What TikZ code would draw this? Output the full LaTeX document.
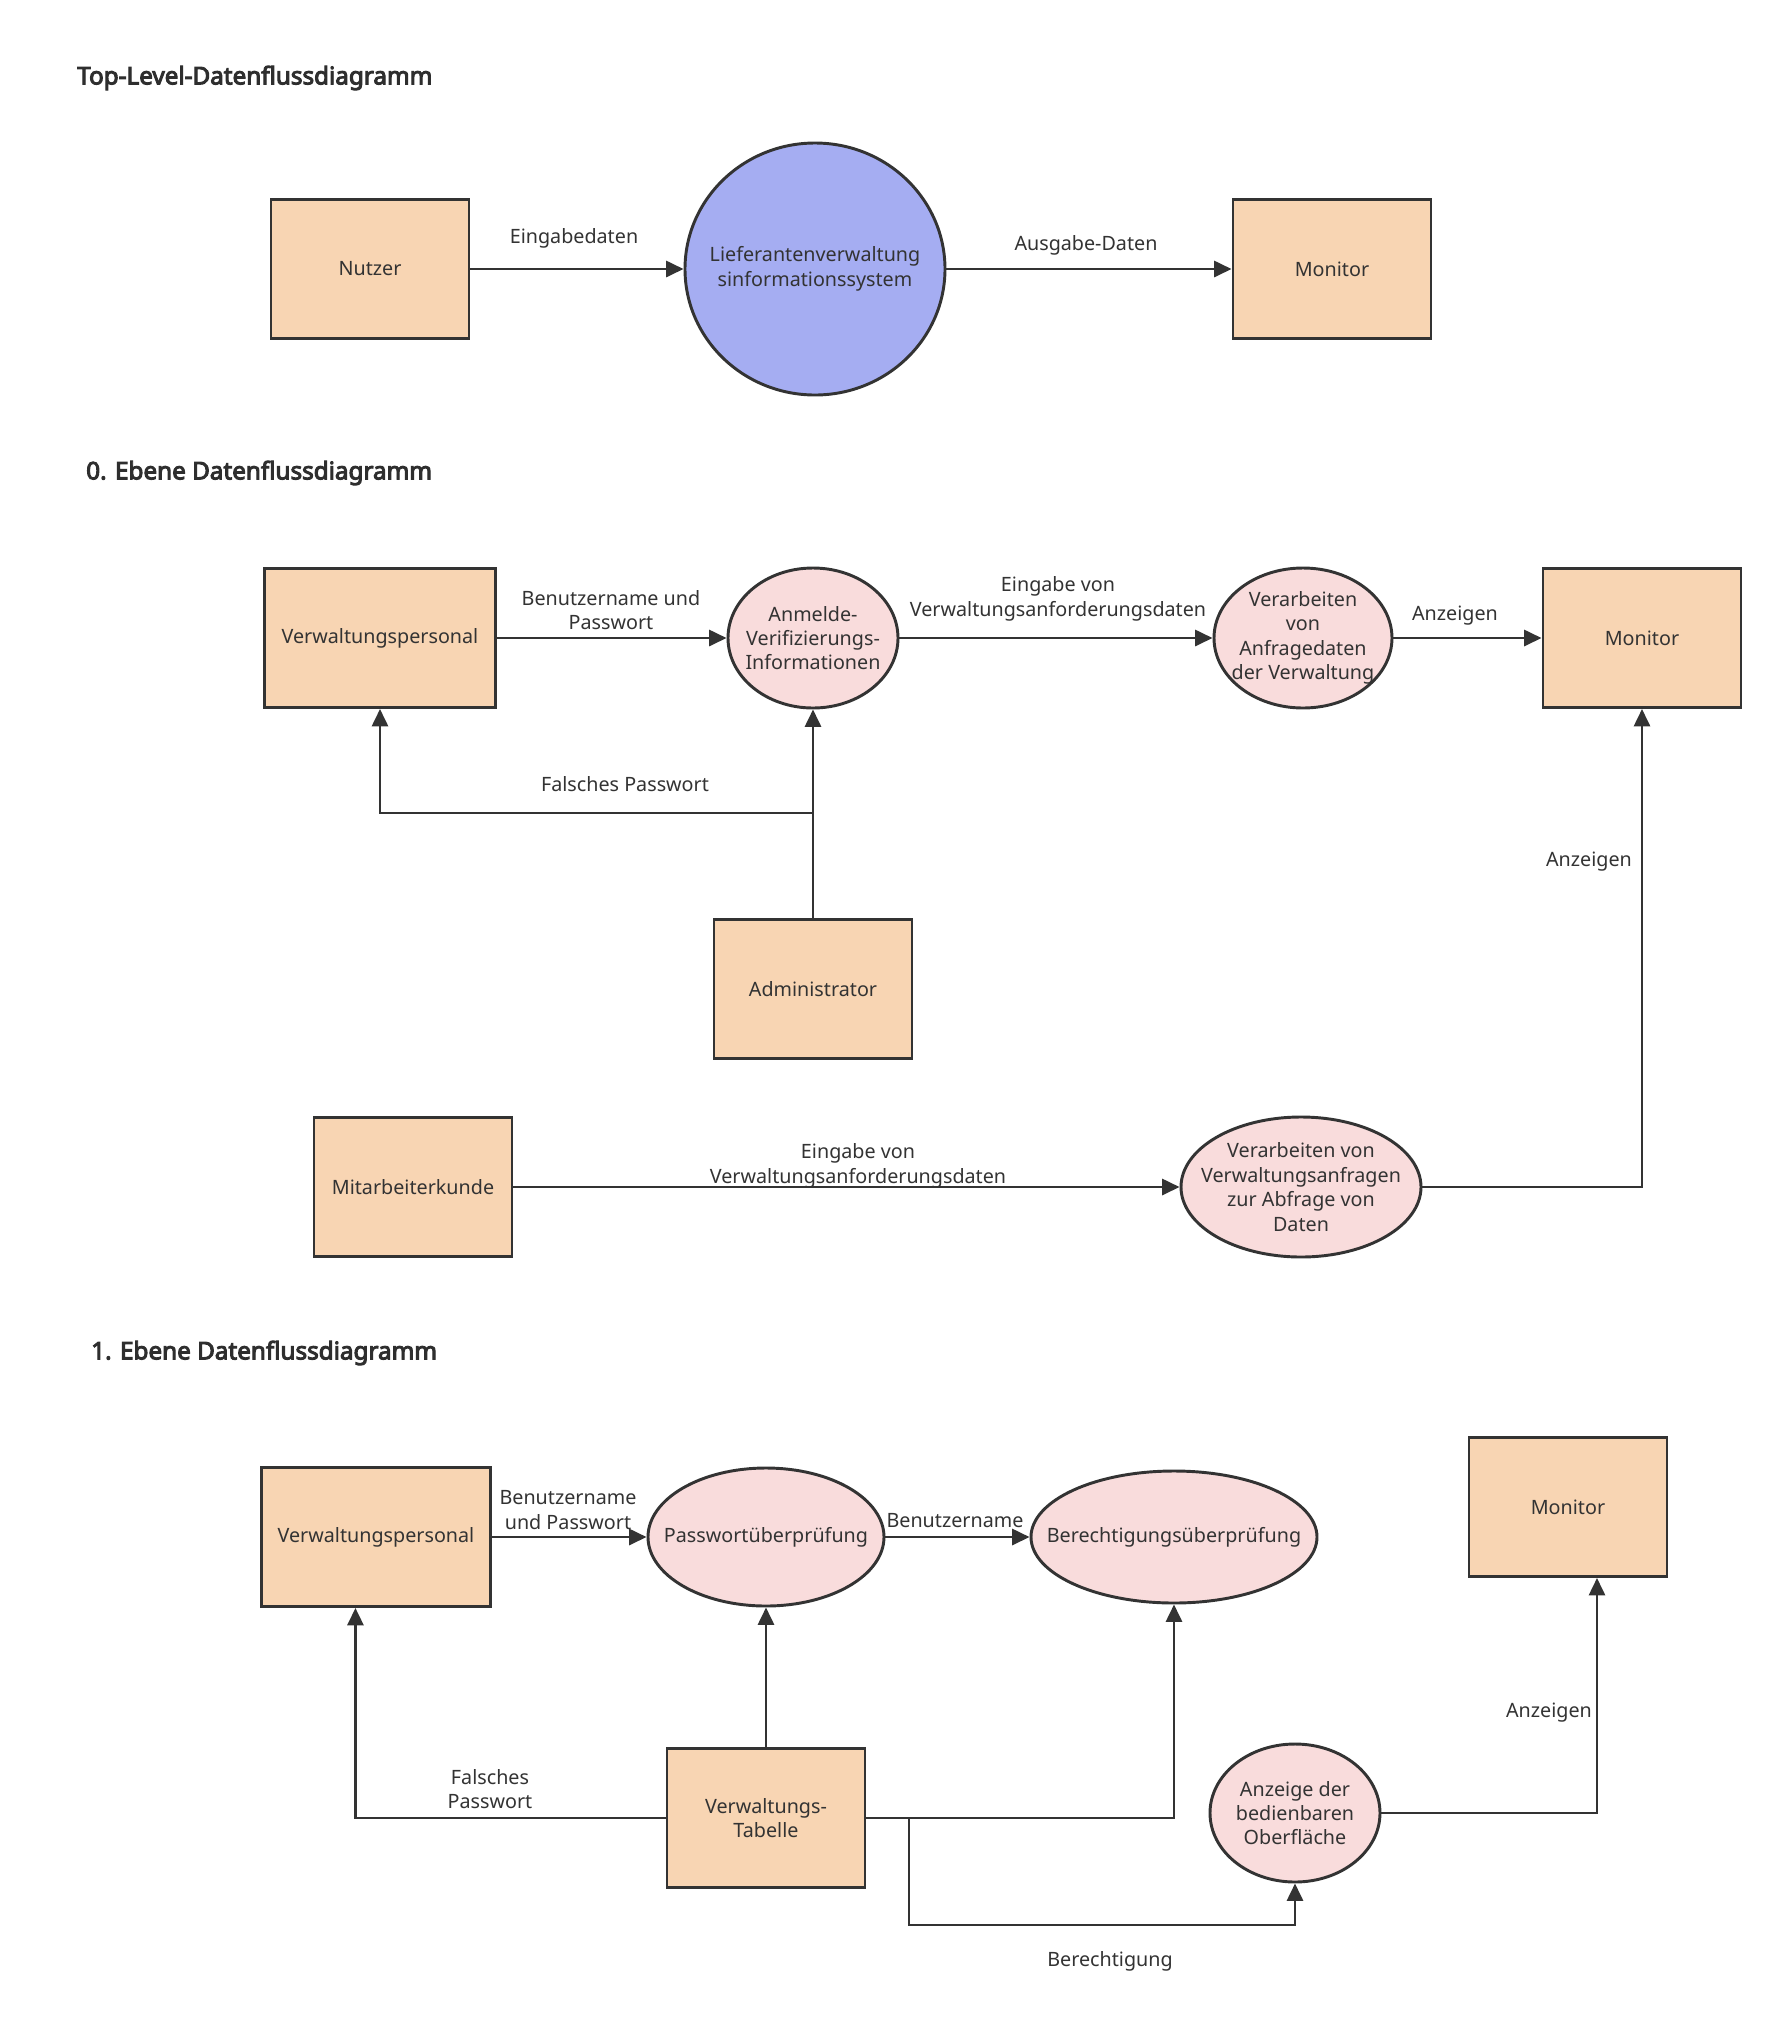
\documentclass[tikz,border=0pt]{standalone}
\usepackage{fontspec}
\setmainfont{Noto Sans}
\newfontfamily\titlefont{Noto Sans}[FakeBold=4]
\usetikzlibrary{shapes.geometric,arrows.meta}
\definecolor{boxfill}{HTML}{F8D5B3}
\definecolor{blueproc}{HTML}{A5ADF2}
\definecolor{pinkproc}{HTML}{F9DCDC}
\definecolor{ink}{HTML}{333333}
\begin{document}
\begin{tikzpicture}[x=0.75pt,y=-0.75pt,
  every node/.style={text=ink, font=\fontsize{14.8}{18.3}\selectfont},
  entity/.style={draw=ink, fill=boxfill, line width=2.2pt, minimum width=148.5pt, minimum height=104.25pt, inner sep=0pt, align=center},
  proc/.style={ellipse, draw=ink, fill=pinkproc, line width=2.2pt, inner sep=0pt},
  txt/.style={align=center, inner sep=0pt},
  title/.style={font=\titlefont\fontsize{18.2}{21}\selectfont, text=ink!90!black, anchor=west, inner sep=0pt},
  flow/.style={draw=ink, line width=2pt, -{Triangle[length=13pt,width=12pt]}}
]
\fill[white] (0,0) rectangle (1778,2043);
\useasboundingbox (0,0) rectangle (1778,2043);

% ---------- Top level ----------
\node[title] (t1) at (77,78) {Top-Level-Datenflussdiagramm};
\node[entity] (nutzer) at (370,269) {Nutzer};
\node[proc, fill=blueproc, minimum width=195pt, minimum height=189pt] (lvs) at (815,269) {};
\node[txt] (lvst) at (lvs.center) {Lieferantenverwaltung\\sinformationssystem};
\node[entity] (mon1) at (1332,269) {Monitor};
\draw[flow] (nutzer) -- (lvs);
\draw[flow] (lvs) -- (mon1);
\node[txt] (l1) at (574,238) {Eingabedaten};
\node[txt] (l2) at (1086,245) {Ausgabe-Daten};

% ---------- Level 0 ----------
\node[title] (t2) at (86,473) {0. Ebene Datenflussdiagramm};
\node[entity, minimum width=173.25pt] (vp2) at (380,638) {Verwaltungspersonal};
\node[proc, minimum width=127.5pt, minimum height=105pt] (anm) at (813,638) {};
\node[txt] (anmt) at (anm.center) {Anmelde-\\Verifizierungs-\\Informationen};
\node[proc, minimum width=133.5pt, minimum height=105pt] (verarb) at (1303,638) {};
\node[txt] (verarbt) at (verarb.center) {Verarbeiten\\von\\Anfragedaten\\der Verwaltung};
\node[entity] (mon2) at (1642,638) {Monitor};
\node[entity] (admin) at (813,989) {Administrator};
\node[entity] (mk) at (413,1187) {Mitarbeiterkunde};
\node[proc, minimum width=180pt, minimum height=105pt] (vva) at (1301,1187) {};
\node[txt] (vvat) at (vva.center) {Verarbeiten von\\Verwaltungsanfragen\\zur Abfrage von\\Daten};
\coordinate (j1) at (813,813);

\draw[flow] (vp2) -- (anm);
\draw[flow] (anm) -- (verarb);
\draw[flow] (verarb) -- (mon2);
\draw[flow] (admin.north) -- (anm.south);
\draw[flow] (j1) -| (vp2.south);
\draw[flow] (mk) -- (vva);
\draw[flow] (vva.east) -| (mon2.south);

\node[txt] (l3) at (611,610) {Benutzername und\\Passwort};
\node[txt] (l4) at (1058,599) {Eingabe von\\Verwaltungsanforderungsdaten};
\node[txt] (l5) at (1455,616) {Anzeigen};
\node[txt] (l6) at (625,784) {Falsches Passwort};
\node[txt] (l7) at (1589,862) {Anzeigen};
\node[txt] (l8) at (858,1166) {Eingabe von\\Verwaltungsanforderungsdaten};

% ---------- Level 1 ----------
\node[title] (t3) at (91,1353) {1. Ebene Datenflussdiagramm};
\node[entity, minimum width=171.75pt] (vp3) at (376,1537) {Verwaltungspersonal};
\node[proc, minimum width=177pt, minimum height=103.5pt] (pw) at (766,1537) {};
\node[txt] (pwt) at (pw.center) {Passwortüberprüfung};
\node[proc, minimum width=214.5pt, minimum height=99pt] (ber) at (1174,1537) {};
\node[txt] (bert) at (ber.center) {Berechtigungsüberprüfung};
\node[entity] (mon3) at (1568,1507) {Monitor};
\node[entity] (tab) at (766,1818) {Verwaltungs-\\Tabelle};
\node[proc, minimum width=127.5pt, minimum height=103.5pt] (anz) at (1295,1813) {};
\node[txt] (anzt) at (anz.center) {Anzeige der\\bedienbaren\\Oberfläche};
\coordinate (j2) at (909,1818);
\coordinate (j3) at (909,1925);

\draw[flow] (vp3) -- (pw);
\draw[flow] (pw) -- (ber);
\draw[flow] (tab.north) -- (pw.south);
\draw[flow] (tab.west) -| ([xshift=-15.4pt]vp3.south);
\draw[flow] (tab.east) -| (ber.south);
\draw[flow] (j2) -- (j3) -| (anz.south);
\draw[flow] (anz.east) -| ([xshift=21.75pt]mon3.south);

\node[txt] (l9) at (568,1510) {Benutzername\\und Passwort};
\node[txt] (l10) at (955,1521) {Benutzername};
\node[txt] (l11) at (490,1789) {Falsches\\Passwort};
\node[txt] (l12) at (1110,1961) {Berechtigung};
\node[txt] (l13) at (1549,1713) {Anzeigen};
\end{tikzpicture}
\end{document}
